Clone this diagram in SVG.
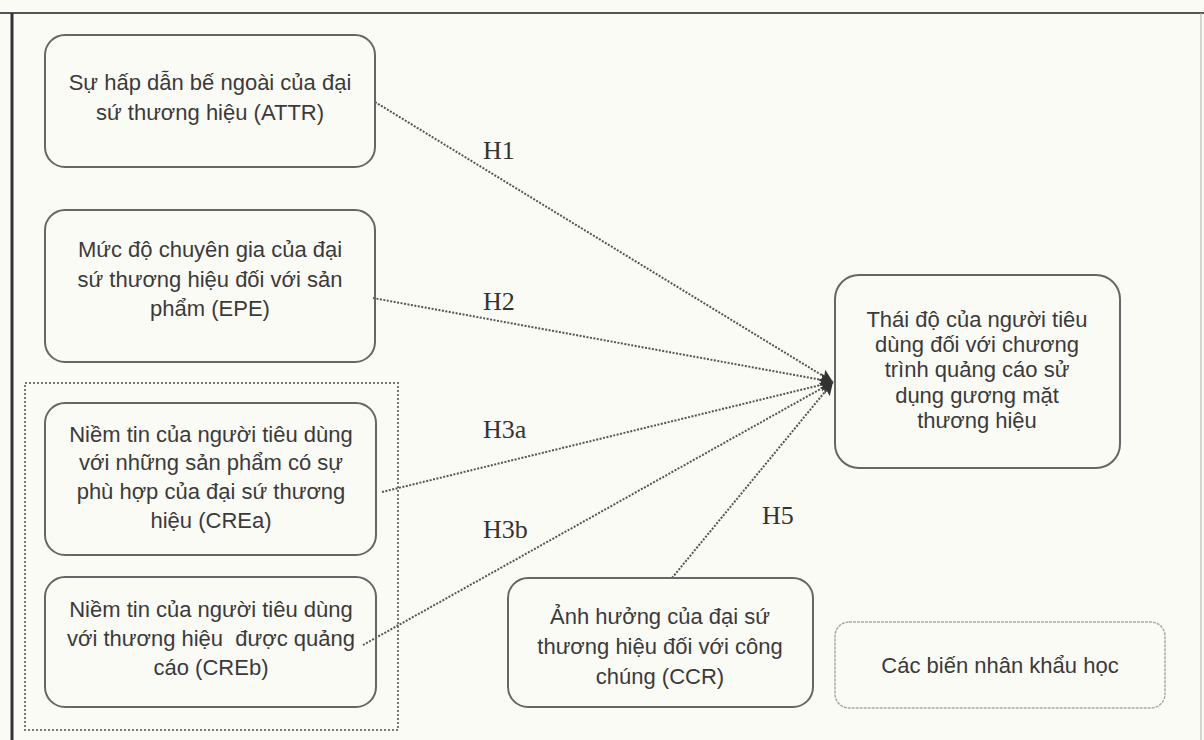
<svg xmlns="http://www.w3.org/2000/svg" width="1204" height="740" viewBox="0 0 1204 740">
<defs>
<style>
.bg{fill:#fbfbf6}
.box{fill:none;stroke:#666;stroke-width:2}
.lite{fill:none;stroke:#aaa;stroke-width:1.5;stroke-dasharray:3 1}
.grp{fill:none;stroke:#777;stroke-width:2;stroke-dasharray:2 2}
.t{font-family:"Liberation Sans",Arial,sans-serif;font-size:22px;fill:#3a3a3a;text-anchor:middle}
.h{font-family:"Liberation Serif","Times New Roman",serif;font-size:26px;fill:#333}
.c{fill:none;stroke:#555;stroke-width:2;stroke-dasharray:2 1.5}
</style>
<marker id="arr" viewBox="0 0 10 10" refX="10" refY="5" markerWidth="15" markerHeight="13" markerUnits="userSpaceOnUse" orient="auto">
<path d="M0,0 L10,5 L0,10 L2,5 Z" fill="#333"/>
</marker>
</defs>
<rect class="bg" x="0" y="0" width="1204" height="740"/>
<g id="frame">
<line x1="0" y1="13" x2="1204" y2="13" stroke="#555" stroke-width="2"/>
<line x1="12" y1="13" x2="12" y2="740" stroke="#333" stroke-width="3"/>
<line x1="1201" y1="13" x2="1201" y2="740" stroke="#aaa" stroke-width="1"/>
</g>
<g id="group-cre"><rect class="grp" x="25" y="383" width="373" height="347"/></g>
<g id="connectors">
<line class="c" x1="375" y1="102" x2="833" y2="382" marker-end="url(#arr)"/>
<line class="c" x1="373" y1="298" x2="833" y2="382" marker-end="url(#arr)"/>
<line class="c" x1="382" y1="492" x2="833" y2="382" marker-end="url(#arr)"/>
<line class="c" x1="363" y1="645" x2="833" y2="382" marker-end="url(#arr)"/>
<line class="c" x1="672" y1="578" x2="833" y2="382" marker-end="url(#arr)"/>
<text class="h" x="483" y="159">H1</text>
<text class="h" x="483" y="310">H2</text>
<text class="h" x="483" y="438">H3a</text>
<text class="h" x="483" y="538">H3b</text>
<text class="h" x="762" y="524">H5</text>
</g>
<g id="attr">
<rect class="box" x="45" y="35" width="330" height="132" rx="20"/>
<text class="t" x="210" y="90">Sự hấp dẫn bế ngoài của đại</text>
<text class="t" x="210" y="120">sứ thương hiệu (ATTR)</text>
</g>
<g id="epe">
<rect class="box" x="45" y="210" width="330" height="152" rx="20"/>
<text class="t" x="210" y="257">Mức độ chuyên gia của đại</text>
<text class="t" x="210" y="287">sứ thương hiệu đối với sản</text>
<text class="t" x="210" y="316">phẩm (EPE)</text>
</g>
<g id="crea">
<rect class="box" x="45" y="403" width="331" height="152" rx="20"/>
<text class="t" x="211" y="442">Niềm tin của người tiêu dùng</text>
<text class="t" x="211" y="470">với những sản phẩm có sự</text>
<text class="t" x="211" y="499">phù hợp của đại sứ thương</text>
<text class="t" x="211" y="528">hiệu (CREa)</text>
</g>
<g id="creb">
<rect class="box" x="45" y="577" width="331" height="130" rx="20"/>
<text class="t" x="211" y="617">Niềm tin của người tiêu dùng</text>
<text class="t" x="211" y="646">với thương hiệu&#160; được quảng</text>
<text class="t" x="211" y="675">cáo (CREb)</text>
</g>
<g id="target">
<rect class="box" x="835" y="275" width="285" height="193" rx="24"/>
<text class="t" x="977" y="327">Thái độ của người tiêu</text>
<text class="t" x="977" y="352">dùng đối với chương</text>
<text class="t" x="977" y="377">trình quảng cáo sử</text>
<text class="t" x="977" y="403">dụng gương mặt</text>
<text class="t" x="977" y="428">thương hiệu</text>
</g>
<g id="ccr">
<rect class="box" x="508" y="578" width="305" height="129" rx="20"/>
<text class="t" x="660" y="624">Ảnh hưởng của đại sứ</text>
<text class="t" x="660" y="654">thương hiệu đối với công</text>
<text class="t" x="660" y="684">chúng (CCR)</text>
</g>
<g id="demographics">
<rect class="lite" x="835" y="622" width="330" height="86" rx="14"/>
<text class="t" x="1000" y="673">Các biến nhân khẩu học</text>
</g>
</svg>
